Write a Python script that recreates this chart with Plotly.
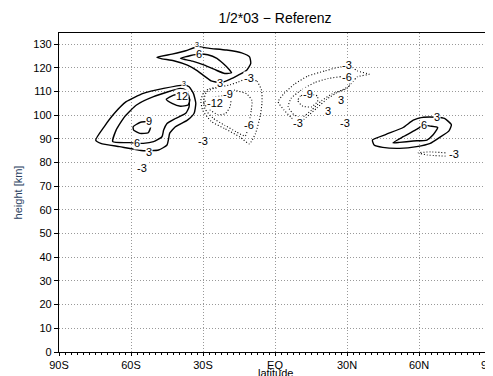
import plotly.graph_objects as go

# --------------------
# Contour lines (latitude [deg], height [km])
# --------------------
# southern blob, solid (positive)
s3_lat = [-37.9, -46.4, -54.9, -62.0, -66.9, -71.2, -74.7, -72.6, -64.8, -54.9, -48.5, -45.0, -44.3, -43.9, -41.5, -36.5, -33.7, -33.0, -34.0, -35.8, -37.9]
s3_h = [112.7, 111.3, 109.2, 105.7, 100.8, 95.1, 89.5, 88.1, 86.7, 85.0, 85.3, 87.4, 90.2, 92.3, 95.1, 97.9, 100.8, 105.0, 109.2, 112.0, 112.7]

s6_lat = [-39.4, -50.6, -57.7, -62.7, -66.2, -67.6, -60.6, -54.9, -50.6, -47.1, -46.4, -45.0, -41.5, -37.2, -35.8, -35.8, -37.2, -39.4]
s6_h = [111.3, 107.8, 104.3, 99.3, 93.7, 88.8, 88.4, 88.1, 88.8, 90.9, 93.7, 96.5, 98.6, 100.8, 103.5, 107.8, 110.6, 111.3]

s9_lat = [-59.1, -56.3, -52.8, -51.8, -52.8, -56.3, -58.9, -59.1]
s9_h = [95.1, 96.9, 97.2, 95.1, 92.6, 92.3, 93.7, 95.1]

s12_lat = [-45.3, -42.2, -38.6, -35.5, -36.2, -39.4, -42.9, -45.3]
s12_h = [106.7, 108.5, 108.9, 106.7, 104.3, 103.8, 105.0, 106.7]

# upper tongue, solid
u3_lat = [-49.2, -42.9, -37.2, -32.3, -27.3, -20.2, -13.9, -10.6, -10.1, -11.8, -15.3, -18.8, -22.8, -26.6, -29.4, -32.3, -36.5, -42.2, -47.1, -49.2]
u3_h = [124.4, 125.8, 127.2, 128.9, 128.2, 127.5, 126.3, 124.6, 121.9, 119.0, 116.9, 115.1, 113.7, 114.5, 116.5, 118.7, 121.1, 123.0, 123.8, 124.4]

u6_lat = [-39.4, -35.1, -31.8, -28.0, -24.2, -21.7, -19.1, -18.1, -20.9, -25.2, -29.4, -34.4, -37.9, -39.4]
u6_h = [124.0, 125.2, 125.8, 125.5, 124.0, 121.9, 119.3, 117.9, 117.6, 119.3, 121.1, 122.8, 123.6, 124.0]

# south of equator, dotted (negative)
e3_lat = [-11.0, -7.5, -5.6, -5.4, -6.1, -8.2, -10.7, -14.6, -20.9, -26.6, -30.1, -30.9, -29.7, -27.3, -23.1, -18.8, -15.3, -11.0]
e3_h = [115.7, 114.3, 110.5, 105.5, 99.9, 92.1, 87.9, 90.8, 94.3, 97.4, 102.0, 106.2, 109.5, 111.2, 111.9, 112.8, 114.0, 115.7]

e6_lat = [-28.7, -25.9, -21.7, -16.7, -11.8, -9.6, -9.9, -11.0, -12.4, -16.0, -20.9, -25.9, -29.2, -29.7, -28.7]
e6_h = [109.5, 111.2, 111.2, 110.5, 109.0, 106.2, 102.0, 95.7, 91.2, 92.9, 95.7, 98.8, 102.7, 106.2, 109.5]

e9_lat = [-29.7, -27.3, -20.9, -18.4, -18.8, -20.7, -23.8, -27.3, -29.7]
e9_h = [105.2, 107.2, 108.1, 106.2, 103.4, 100.6, 100.2, 102.4, 105.2]

# north of equator, dotted (negative)
n3_lat = [30.0, 26.4, 20.8, 13.7, 8.1, 3.8, 1.3, 3.8, 6.7, 9.5, 13.0, 17.3, 21.5, 25.8, 30.0, 32.4, 34.3, 39.2, 34.3, 32.1, 30.0]
n3_h = [120.7, 120.2, 118.7, 116.5, 113.1, 109.2, 105.7, 102.1, 99.1, 96.5, 99.1, 102.9, 106.7, 109.5, 111.3, 114.1, 116.2, 117.3, 118.7, 120.2, 120.7]

n6_lat = [30.0, 27.2, 22.2, 16.6, 10.9, 6.7, 5.5, 8.1, 11.2, 15.2, 19.4, 23.6, 27.9, 30.7, 31.5, 30.0]
n6_h = [116.2, 116.2, 115.5, 113.8, 110.6, 107.1, 103.5, 100.0, 99.1, 102.1, 106.1, 108.9, 110.6, 112.3, 114.5, 116.2]

n9_lat = [13.7, 10.6, 9.5, 11.6, 15.2, 17.7, 17.7, 13.7]
n9_h = [108.9, 108.1, 106.1, 103.8, 103.5, 105.7, 108.1, 108.9]

# northern high latitudes
h3_lat = [40.6, 46.3, 53.4, 57.6, 61.9, 67.5, 70.6, 73.5, 72.5, 68.6, 64.7, 59.0, 51.9, 44.9, 41.3, 40.6]
h3_h = [89.5, 91.9, 94.8, 97.9, 99.1, 99.1, 98.6, 96.0, 93.4, 90.6, 88.1, 86.7, 86.0, 86.4, 87.4, 89.5]

h6_lat = [49.1, 53.4, 59.0, 62.1, 64.7, 67.8, 65.8, 63.3, 57.6, 51.9, 49.1]
h6_h = [88.3, 90.9, 94.0, 95.8, 95.4, 94.8, 91.6, 89.5, 89.1, 88.5, 88.3]

hn3_lat = [71.0, 64.7, 59.7, 63.3, 71.0]
hn3_h = [84.1, 84.5, 84.1, 83.2, 82.7]

# contour labels
label_text = ["3", "12", "9", "6", "3", "-3", "3", "6", "3", "-3", "-6", "-9", "-12", "-3",
              "-3", "-6", "-9", "3", "3", "-3", "-3", "3", "6", "-3"]
label_lat = [-37.9, -38.6, -52.6, -57.7, -52.6, -55.6, -32.3, -31.8, -22.8, -11.0, -11.0, -19.5, -24.8, -30.1,
             30.0, 30.0, 13.7, 27.6, 22.2, 29.3, 9.5, 67.5, 62.1, 74.5]
label_h = [113.3, 108.3, 97.5, 88.2, 84.4, 77.7, 130.0, 125.8, 113.7, 115.7, 95.7, 109.0, 105.0, 89.0,
           121.1, 116.0, 108.9, 106.4, 101.9, 96.5, 96.5, 99.1, 95.8, 83.8]
label_small = [True, False, False, False, False, False, True, False, False, False, False, False, False, False,
               False, False, False, False, False, False, False, False, False, False]

lat_ticks = [-90, -60, -30, 0, 30, 60, 90]
lat_labels = ["90S", "60S", "30S", "EQ", "30N", "60N", "90N"]
h_ticks = list(range(0, 140, 10))

# --------------------
# Plot
# --------------------
fig = go.Figure()

solid = [(s3_lat, s3_h), (s6_lat, s6_h), (s9_lat, s9_h), (s12_lat, s12_h),
         (u3_lat, u3_h), (u6_lat, u6_h), (h3_lat, h3_h), (h6_lat, h6_h)]
dotted = [(e3_lat, e3_h), (e6_lat, e6_h), (e9_lat, e9_h),
          (n3_lat, n3_h), (n6_lat, n6_h), (n9_lat, n9_h), (hn3_lat, hn3_h)]

for lat, h in solid:
    fig.add_trace(go.Scatter(x=lat, y=h, mode="lines",
                             line=dict(color="black", width=1.4, shape="spline", smoothing=0.5),
                             hoverinfo="skip", showlegend=False))
for lat, h in dotted:
    fig.add_trace(go.Scatter(x=lat, y=h, mode="lines",
                             line=dict(color="black", width=1.1, dash="1px,2px", shape="spline", smoothing=0.5),
                             hoverinfo="skip", showlegend=False))

for t, x, y, small in zip(label_text, label_lat, label_h, label_small):
    fig.add_annotation(x=x, y=y, text=t, showarrow=False,
                       font=dict(family="Liberation Sans", size=7 if small else 11, color="black"),
                       bgcolor="white", borderpad=0)

# x axis title sits tight under the tick labels, partly below the page edge
fig.add_annotation(x=0.5, y=-0.04, xref="paper", yref="paper", yanchor="top",
                   text="latitude", showarrow=False,
                   font=dict(family="Liberation Sans", size=11, color="black"))

axis_common = dict(
    showline=True, linecolor="black", linewidth=1.2, mirror=True,
    ticks="outside", tickcolor="black",
    showgrid=True, gridcolor="#999999", griddash="1px,2px", gridwidth=1,
    zeroline=False, automargin=False, ticklabeloverflow="allow",
    tickfont=dict(family="Liberation Sans", size=11, color="black"),
)

fig.update_xaxes(range=[-90, 90], tickvals=lat_ticks, ticktext=lat_labels, ticklen=3,
                 minor=dict(ticks="outside", ticklen=2, dtick=2.5, tickcolor="black", showgrid=False),
                 **axis_common)
fig.update_yaxes(range=[0, 134.7], tickvals=h_ticks, ticklen=4,
                 title=dict(text="height [km]", standoff=8, font=dict(family="Liberation Sans", size=11)),
                 **axis_common)

# page puts the figure 8px in from the top-left corner
fig.update_layout(
    width=485, height=368,
    margin=dict(l=51, r=2, t=25, b=24),
    paper_bgcolor="white", plot_bgcolor="white",
    title=dict(text="1/2*03 \u2212 Referenz", x=0.5, xref="paper", xanchor="center",
               y=1 - 10 / 368, yref="container", yanchor="middle", automargin=False,
               font=dict(family="Liberation Sans", size=14, color="black")),
)

fig.write_html("out.html")
